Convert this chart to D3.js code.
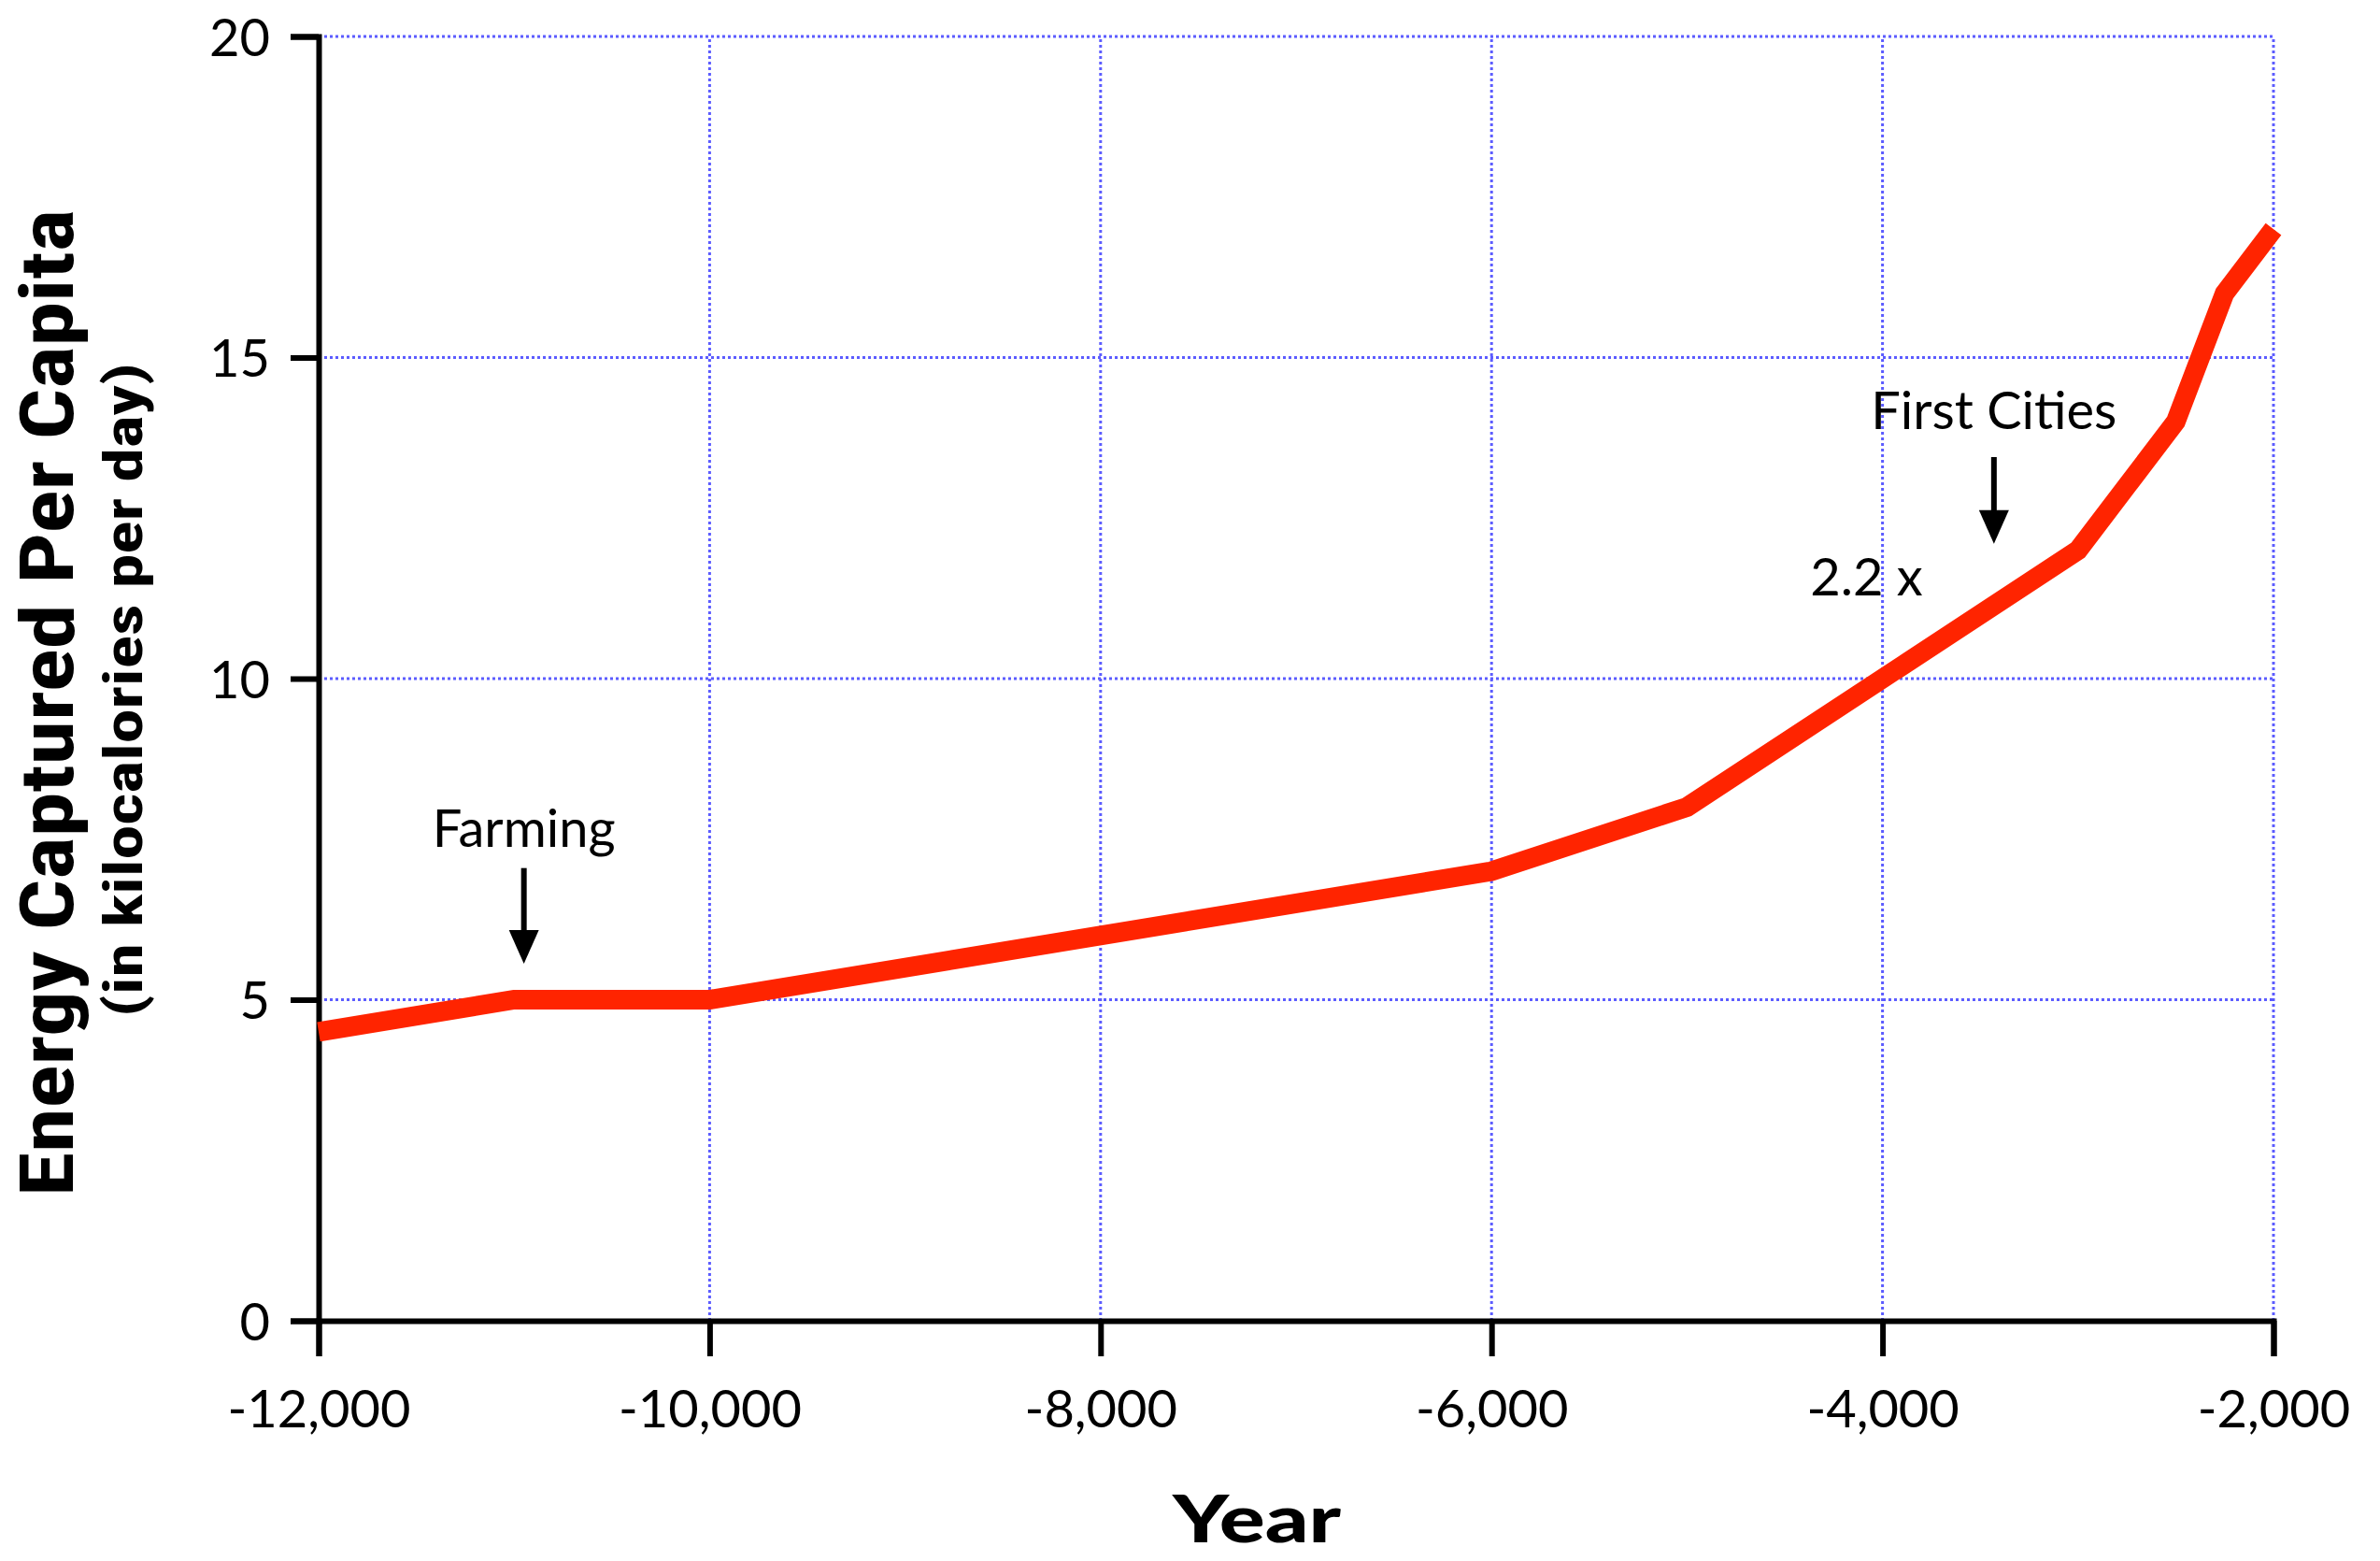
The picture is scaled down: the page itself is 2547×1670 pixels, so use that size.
<!DOCTYPE html>
<html>
<head>
<meta charset="utf-8">
<script src="https://cdn.jsdelivr.net/npm/d3@7"></script>
<style>
  html, body { margin: 0; padding: 0; background: #ffffff; }
  svg { display: block; }
</style>
</head>
<body>
<svg id="chart" width="2547" height="1670"></svg>
<script>
// ---- data ----
const years = [-12000, -11000, -10000, -6000, -5000, -4000, -3000, -2500, -2250, -2000];
const energy = [4.5, 5, 5, 7, 8, 10, 12, 14, 16, 17];

const xTicks = [-12000, -10000, -8000, -6000, -4000, -2000];
const xTickLabels = ["-12,000", "-10,000", "-8,000", "-6,000", "-4,000", "-2,000"];
const yTicks = [0, 5, 10, 15, 20];
const yTickLabels = ["0", "5", "10", "15", "20"];

const annotationTexts = ["Farming", "First Cities", "2.2 x"];
const annotationX = [-10950, -3430, -4370];
const annotationTextY = [7.38, 13.88, 11.3];
const arrowTopY = [7.05, 13.45, null];
const arrowTipY = [5.56, 12.1, null];

const yTitle = "Energy Captured Per Capita";
const ySubtitle = "(in kilocalories per day)";
const xTitle = "Year";

// ---- layout ----
const margin = { left: 341, right: 2547 - 2433, top: 39, bottom: 1670 - 1413 };
const W = 2547, H = 1670;
const svg = d3.select("#chart");

const x = d3.scaleLinear().domain([-12000, -2000]).range([margin.left, W - margin.right]);
const y = d3.scaleLinear().domain([0, 20]).range([H - margin.bottom, margin.top]);

const labelFont = "Lato, 'Open Sans', 'DejaVu Sans', sans-serif";
const gridColor = "#5c5cff";

// grid
const grid = svg.append("g");
grid.selectAll("line.gx").data(xTicks).join("line")
  .attr("x1", d => x(d)).attr("x2", d => x(d))
  .attr("y1", y(0)).attr("y2", y(20))
  .attr("stroke", gridColor).attr("stroke-width", 3).attr("stroke-dasharray", "3,3");
grid.selectAll("line.gy").data(yTicks).join("line")
  .attr("x1", x(-12000)).attr("x2", x(-2000))
  .attr("y1", d => y(d)).attr("y2", d => y(d))
  .attr("stroke", gridColor).attr("stroke-width", 3).attr("stroke-dasharray", "3,3");

// axes
const yAxis = d3.axisLeft(y).tickValues(yTicks)
  .tickFormat((d, i) => yTickLabels[i]).tickSize(30).tickSizeOuter(30).tickPadding(22);
const xAxis = d3.axisBottom(x).tickValues(xTicks)
  .tickFormat((d, i) => xTickLabels[i]).tickSize(38).tickSizeOuter(38).tickPadding(36);

const gy = svg.append("g").attr("transform", `translate(${x(-12000)},0)`).call(yAxis);
const gx = svg.append("g").attr("transform", `translate(0,${y(0)})`).call(xAxis);

[gx, gy].forEach(g => {
  g.select(".domain").attr("stroke", "#000").attr("stroke-width", 6).attr("fill", "none");
  g.selectAll(".tick line").attr("stroke", "#000").attr("stroke-width", 6);
  g.selectAll(".tick text").attr("fill", "#000")
    .style("font-family", labelFont).style("font-size", "56px");
});
gy.selectAll(".tick text").attr("dy", "0.36em");

// line
const line = d3.line().x((d, i) => x(years[i])).y((d, i) => y(energy[i]));
svg.append("path").datum(energy)
  .attr("d", line)
  .attr("fill", "none")
  .attr("stroke", "#ff2400")
  .attr("stroke-width", 21)
  .attr("stroke-linejoin", "miter");

// annotations
annotationTexts.forEach((t, i) => {
  svg.append("text")
    .attr("x", x(annotationX[i]))
    .attr("y", y(annotationTextY[i]))
    .attr("text-anchor", i === 2 ? "start" : "middle")
    .style("font-family", labelFont).style("font-size", "56px")
    .attr("fill", "#000")
    .text(t);
  if (arrowTopY[i] !== null) {
    const ax = x(annotationX[i]);
    const yTop = y(arrowTopY[i]);
    const yTip = y(arrowTipY[i]);
    svg.append("line")
      .attr("x1", ax).attr("x2", ax)
      .attr("y1", yTop).attr("y2", yTip - 25)
      .attr("stroke", "#000").attr("stroke-width", 6);
    svg.append("path")
      .attr("d", `M${ax - 16},${yTip - 36} L${ax + 16},${yTip - 36} L${ax},${yTip} Z`)
      .attr("fill", "#000");
  }
});

// y titles
const titleFont = "'Liberation Sans Narrow', 'Roboto Condensed', 'Liberation Sans', Arial, sans-serif";
svg.append("text")
  .attr("transform", `translate(78,${752}) rotate(-90)`)
  .attr("text-anchor", "middle")
  .attr("textLength", 1056).attr("lengthAdjust", "spacingAndGlyphs")
  .style("font-family", titleFont).style("font-weight", "bold").style("font-size", "80px")
  .attr("fill", "#000")
  .text(yTitle);
svg.append("text")
  .attr("transform", `translate(152,${738}) rotate(-90)`)
  .attr("text-anchor", "middle")
  .attr("textLength", 700).attr("lengthAdjust", "spacingAndGlyphs")
  .style("font-family", titleFont).style("font-weight", "bold").style("font-size", "58px")
  .attr("fill", "#000")
  .text(ySubtitle);

// x title
svg.append("text")
  .attr("x", 1345).attr("y", 1650)
  .attr("text-anchor", "middle")
  .attr("textLength", 180).attr("lengthAdjust", "spacingAndGlyphs")
  .style("font-family", "Lato, 'Open Sans', sans-serif").style("font-weight", "900").style("font-size", "70px")
  .attr("fill", "#000")
  .text(xTitle);
</script>
</body>
</html>
